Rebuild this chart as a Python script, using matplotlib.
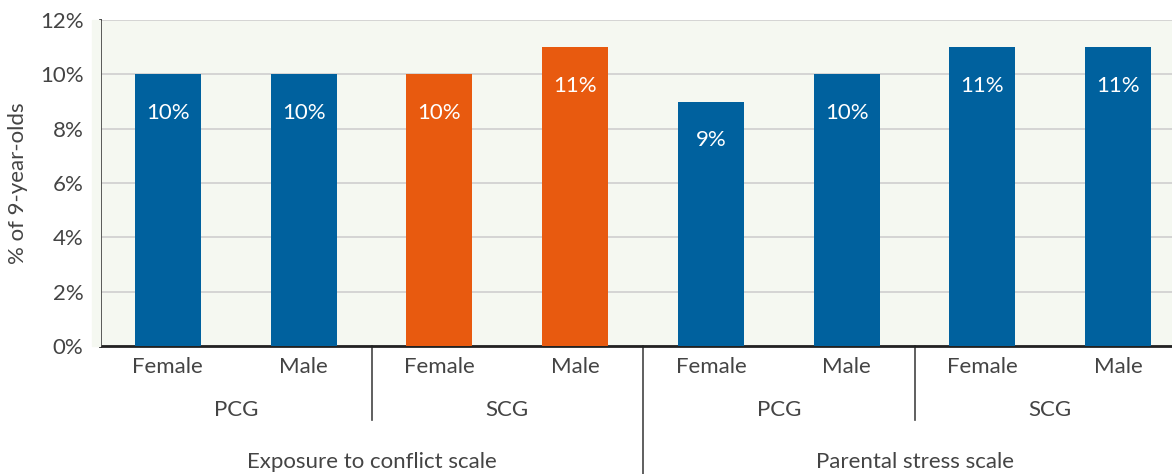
import matplotlib
matplotlib.use('Agg')

import matplotlib.pyplot as plt
from matplotlib.patches import Rectangle
from matplotlib.ticker import FuncFormatter

# Share of 9-year-olds by caregiver and child sex
sexes = ['Female', 'Male', 'Female', 'Male', 'Female', 'Male', 'Female', 'Male']
caregivers = ['PCG', 'SCG', 'PCG', 'SCG']
scales = ['Exposure to conflict scale', 'Parental stress scale']
values = [10, 10, 10, 11, 9, 10, 11, 11]
highlight = [False, False, True, True, False, False, False, False]

BLUE = '#00619e'
ORANGE = '#e85a0f'
TEXT = '#444444'
BG = '#f5f8f1'

plt.rcParams['font.family'] = ['Lato', 'DejaVu Sans']

W, H = 1172, 474
fig = plt.figure(figsize=(W / 100, H / 100), dpi=100)
# plot area runs a little past the right edge of the figure
ax = fig.add_axes([100 / W, 1 - 346 / H, 1086 / W, 326 / H])
ax.set_facecolor(BG)
fig.patches.append(Rectangle((92 / W, 1 - 346 / H), 8 / W, 326 / H,
                             transform=fig.transFigure, color=BG, zorder=0))

x = list(range(len(values)))
colors = [ORANGE if h else BLUE for h in highlight]
ax.bar(x, values, width=0.487, color=colors, zorder=3)

for xi, v in zip(x, values):
    ax.annotate('%d%%' % v, (xi, v), xytext=(0, -39), textcoords='offset pixels',
                ha='center', va='center', color='white', fontsize=16, zorder=4)

ax.set_xlim(-0.5, len(values) - 0.5)
ax.set_ylim(0, 12)
ax.set_yticks(range(0, 13, 2))
ax.yaxis.set_major_formatter(FuncFormatter(lambda v, p: '%d%%' % v))
ax.yaxis.grid(True, color='#cfcfcf', linewidth=1.2, zorder=0)
ax.set_axisbelow(True)

for side in ['top', 'right']:
    ax.spines[side].set_visible(False)
for side in ['left', 'bottom']:
    ax.spines[side].set_color('#222222')
    ax.spines[side].set_linewidth(2)

ax.tick_params(axis='y', length=0, labelsize=16, labelcolor=TEXT, pad=12)
ax.tick_params(axis='x', length=0, labelsize=16, labelcolor=TEXT, pad=8)
ax.set_xticks(x)
ax.set_xticklabels(sexes)
ax.set_ylabel('% of 9-year-olds', fontsize=16, color=TEXT, va='center')
ax.yaxis.set_label_coords(-82 / 1086, 0.5)

# Nested group labels and dividers below the axis
trans = ax.get_xaxis_transform()
for i, name in enumerate(caregivers):
    ax.text(2 * i + 0.5, -0.195, name, transform=trans, ha='center', va='center',
            fontsize=16, color=TEXT)
for i, name in enumerate(scales):
    ax.text(4 * i + 1.5, -0.355, name, transform=trans, ha='center', va='center',
            fontsize=16, color=TEXT)
for pos, bottom in [(1.5, -0.228), (3.5, -0.4), (5.5, -0.228)]:
    ax.plot([pos, pos], [0, bottom], transform=trans, color='#444444',
            linewidth=1.2, clip_on=False)

fig.savefig('out.png', dpi=100)
